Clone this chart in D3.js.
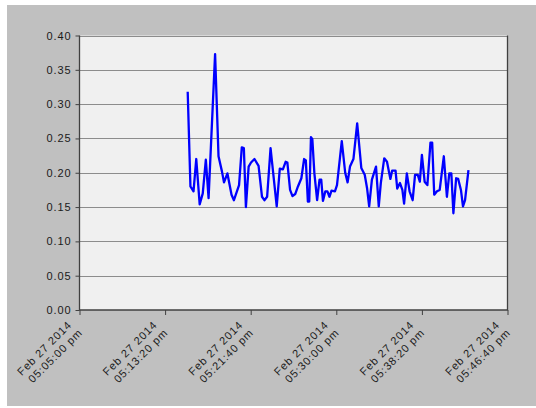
<!DOCTYPE html>
<html>
<head>
<meta charset="utf-8">
<script src="https://cdn.jsdelivr.net/npm/d3@7"></script>
<style>
  html, body { margin: 0; padding: 0; background: #ffffff; }
  svg { display: block; }
  text { font-family: "Liberation Sans", Arial, sans-serif; }
</style>
</head>
<body>
<svg id="chart" width="536" height="408"></svg>
<script>
// ---- data ----
const day = "2014-02-27";
const times = [
  "17:15:32","17:15:48","17:16:06","17:16:22","17:16:42","17:17:00","17:17:18","17:17:34","17:18:12","17:18:32",
  "17:18:52","17:19:04","17:19:24","17:19:48","17:20:02","17:20:32","17:20:48","17:21:00","17:21:12","17:21:28",
  "17:21:42","17:22:02","17:22:26","17:22:46","17:23:00","17:23:16","17:23:36","17:24:12","17:24:30","17:24:48",
  "17:25:04","17:25:14","17:25:30","17:25:44","17:26:00","17:26:16","17:26:36","17:26:52","17:27:02","17:27:14",
  "17:27:22","17:27:32","17:27:40","17:27:52","17:28:08","17:28:22","17:28:32","17:28:42","17:28:56","17:29:08",
  "17:29:20","17:29:32","17:29:52","17:30:04","17:30:32","17:30:52","17:31:06","17:31:20","17:31:40","17:32:02",
  "17:32:26","17:32:46","17:33:00","17:33:12","17:33:28","17:33:52","17:34:08","17:34:20","17:34:40","17:34:56",
  "17:35:16","17:35:26","17:35:46","17:35:56","17:36:12","17:36:26","17:36:36","17:36:52","17:37:08","17:37:26",
  "17:37:40","17:37:56","17:38:08","17:38:20","17:38:36","17:38:52","17:39:10","17:39:20","17:39:32","17:39:48",
  "17:40:04","17:40:28","17:40:46","17:41:00","17:41:12","17:41:24","17:41:40","17:41:52","17:42:08","17:42:20",
  "17:42:32","17:42:52"
];
const values = [
  0.318,0.180,0.173,0.220,0.154,0.170,0.219,0.163,0.373,0.224,
  0.202,0.186,0.199,0.168,0.160,0.182,0.237,0.236,0.150,0.209,
  0.215,0.220,0.210,0.165,0.160,0.165,0.236,0.151,0.206,0.205,
  0.216,0.215,0.175,0.166,0.169,0.180,0.192,0.220,0.218,0.158,
  0.158,0.252,0.249,0.199,0.160,0.190,0.190,0.159,0.173,0.173,
  0.165,0.174,0.173,0.182,0.246,0.200,0.186,0.209,0.220,0.272,
  0.207,0.197,0.177,0.151,0.190,0.209,0.151,0.185,0.221,0.216,
  0.191,0.203,0.203,0.177,0.185,0.175,0.155,0.199,0.173,0.160,
  0.197,0.197,0.187,0.226,0.187,0.182,0.244,0.244,0.168,0.173,
  0.175,0.224,0.165,0.199,0.199,0.141,0.192,0.191,0.175,0.151,
  0.160,0.204
];
const xTickTimes = ["17:05:00","17:13:20","17:21:40","17:30:00","17:38:20","17:46:40"];
const yTicks = [0.00,0.05,0.10,0.15,0.20,0.25,0.30,0.35,0.40];

// ---- layout ----
const W = 536, H = 408;
const plot = { left: 79.5, right: 507.5, top: 35.5, bottom: 310 };

const parse = d3.timeParse("%Y-%m-%d %H:%M:%S");
const data = times.map((t, i) => ({ t: parse(day + " " + t), v: values[i] }));
const xTicks = xTickTimes.map(t => parse(day + " " + t));

const x = d3.scaleTime()
  .domain([xTicks[0], xTicks[xTicks.length - 1]])
  .range([plot.left, plot.right]);
const y = d3.scaleLinear()
  .domain([0, 0.40])
  .range([plot.bottom, plot.top]);

const svg = d3.select("#chart");

// outer panel
svg.append("rect").attr("x", 7).attr("y", 5).attr("width", W - 7).attr("height", H - 7)
  .attr("fill", "#c0c0c0");

// plot background
svg.append("rect")
  .attr("x", plot.left).attr("y", plot.top)
  .attr("width", plot.right - plot.left).attr("height", plot.bottom - plot.top)
  .attr("fill", "#f0f0f0");

// gridlines
svg.append("g").selectAll("line").data(yTicks.filter(d => d > 0)).join("line")
  .attr("x1", plot.left).attr("x2", plot.right)
  .attr("y1", d => Math.round(y(d)) + 0.5).attr("y2", d => Math.round(y(d)) + 0.5)
  .attr("stroke", "#8c8c8c").attr("stroke-width", 1);

// data line
const line = d3.line().x(d => x(d.t)).y(d => y(d.v));
svg.append("path").datum(data)
  .attr("d", line)
  .attr("fill", "none")
  .attr("stroke", "#0000ff")
  .attr("stroke-width", 2.3)
  .attr("stroke-linejoin", "round");

// plot border (left, bottom, right)
svg.append("path")
  .attr("d", `M${plot.left},${plot.top}V${plot.bottom}H${plot.right}V${plot.top}`)
  .attr("fill", "none").attr("stroke", "#404040").attr("stroke-width", 1.3);

// y axis
const yAxis = svg.append("g")
  .attr("transform", `translate(${plot.left},0)`)
  .call(d3.axisLeft(y).tickValues(yTicks).tickFormat(d3.format(".2f")).tickSize(4).tickPadding(4));
yAxis.select(".domain").remove();
yAxis.selectAll(".tick line").attr("stroke", "#404040");
yAxis.selectAll(".tick text")
  .attr("font-size", 11).attr("letter-spacing", "0.9px")
  .attr("fill", "#1a1a1a")
  .attr("font-family", "'Liberation Sans', Arial, sans-serif");

// x axis
const xAxis = svg.append("g")
  .attr("transform", `translate(0,${plot.bottom})`)
  .call(d3.axisBottom(x).tickValues(xTicks).tickFormat("").tickSize(5));
xAxis.select(".domain").remove();
xAxis.selectAll(".tick line").attr("stroke", "#404040");

const fmt1 = d3.timeFormat("%b %d %Y");
const fmt2 = d3.timeFormat("%I:%M:%S %p");
const lbl = svg.append("g");
xTicks.forEach(t => {
  const g = lbl.append("g")
    .attr("transform", `translate(${x(t)},${plot.bottom}) rotate(-45)`);
  const txt = g.append("text")
    .attr("text-anchor", "end")
    .attr("font-size", 11).attr("letter-spacing", "0.9px")
    .attr("fill", "#1a1a1a");
  txt.append("tspan").attr("x", -16).attr("y", 6).text(fmt1(t));
  txt.append("tspan").attr("x", -14).attr("y", 19).text(fmt2(t).toLowerCase());
});
</script>
</body>
</html>
